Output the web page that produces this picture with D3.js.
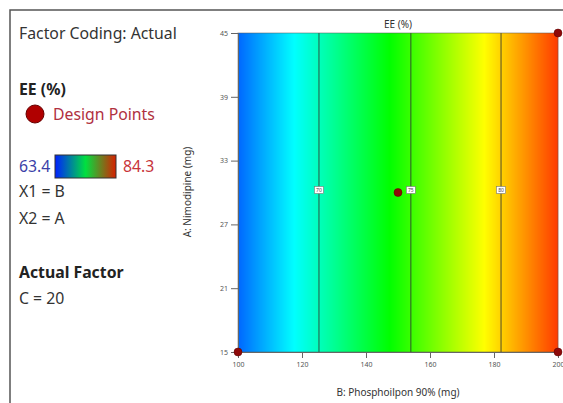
<!DOCTYPE html>
<html lang="en">
<head>
  <meta charset="utf-8">
  <title>EE (%) contour</title>
  <script src="https://d3js.org/d3.v7.min.js"></script>
  <style>
  body { margin: 0; background: #fff; }
  text { font-family: "Noto Sans", "Open Sans", sans-serif; }
  </style>
</head>
<body>
<script>
  // values
  var xTicks = [100, 120, 140, 160, 180, 200];      // B: Phosphoilpon 90% (mg)
  var yTicks = [15, 21, 27, 33, 39, 45];            // A: Nimodipine (mg)
  var bSamples = [100, 125.3, 154, 182.2, 200];     // response along B (flat in A)
  var eeSamples = [65.5, 70, 75, 80, 83.1];
  var contourLevels = [70, 75, 80];
  var designB = [100, 200, 200, 150];
  var designA = [15, 15, 45, 30];
  var eeMin = 63.4, eeMax = 84.3;
  var legendLines = ["X1 = B", "X2 = A"];

  var w = 563, h = 403;
  var fs = 15.8; // legend font size
  var svg = d3.select("body").append("svg").attr("width", w).attr("height", h);

  // outer frame
  svg.append("rect")
    .attr("x", 10).attr("y", 10).attr("width", 600).attr("height", 450)
    .attr("fill", "none").attr("stroke", "#555").attr("stroke-width", 1.5);

  var x = d3.scaleLinear().domain([100, 200]).range([238, 558]);
  var y = d3.scaleLinear().domain([15, 45]).range([352, 33]);
  var ee = d3.scaleLinear().domain(bSamples).range(eeSamples);
  var color = d3.scaleLinear()
    .domain([0, 0.25, 0.5, 0.75, 1].map(function(t) { return eeMin + t * (eeMax - eeMin); }))
    .range(["#0000ff", "#00ffff", "#00ff00", "#ffff00", "#ff0000"]);

  // filled surface, one column per pixel
  var cols = d3.range(x.range()[0], x.range()[1], 1);
  svg.append("g").selectAll("rect")
    .data(cols)
    .enter().append("rect")
    .attr("x", function(d) { return d; })
    .attr("y", y(45))
    .attr("width", 1.2)
    .attr("height", y(15) - y(45))
    .attr("fill", function(d) { return color(ee(x.invert(d + 0.5))); });

  // contour lines
  var bAt = d3.scaleLinear().domain(eeSamples).range(bSamples);
  var cg = svg.append("g").selectAll("g").data(contourLevels).enter().append("g");
  cg.append("line")
    .attr("x1", function(d) { return x(bAt(d)); })
    .attr("x2", function(d) { return x(bAt(d)); })
    .attr("y1", y(45)).attr("y2", y(15))
    .attr("stroke", "#333").attr("stroke-opacity", 0.65).attr("stroke-width", 1.3);
  cg.append("rect")
    .attr("x", function(d) { return x(bAt(d)) - 4.5; })
    .attr("y", 186.5).attr("width", 9).attr("height", 7)
    .attr("fill", "#fff").attr("stroke", "#777").attr("stroke-width", 0.6);
  cg.append("text")
    .attr("x", function(d) { return x(bAt(d)); })
    .attr("y", 192)
    .attr("text-anchor", "middle")
    .attr("font-size", 5).attr("fill", "#444")
    .text(function(d) { return d; });

  // plot border
  svg.append("rect")
    .attr("x", x(100)).attr("y", y(45))
    .attr("width", x(200) - x(100)).attr("height", y(15) - y(45))
    .attr("fill", "none").attr("stroke", "#555").attr("stroke-opacity", 0.5).attr("stroke-width", 1);

  // axes
  var xAxis = svg.append("g")
    .attr("transform", "translate(0," + y(15) + ")")
    .call(d3.axisBottom(x).tickValues(xTicks).tickSize(6).tickPadding(4).tickSizeOuter(0));
  var yAxis = svg.append("g")
    .attr("transform", "translate(" + x(100) + ",0)")
    .call(d3.axisLeft(y).tickValues(yTicks).tickSize(7).tickPadding(3).tickSizeOuter(0));
  [xAxis, yAxis].forEach(function(a) {
    a.select(".domain").attr("stroke", "#666");
    a.selectAll(".tick line").attr("stroke", "#666");
    a.selectAll(".tick text").attr("fill", "#555").attr("font-size", 7)
      .attr("font-family", "'Noto Sans', sans-serif");
  });

  // design points
  svg.append("g").selectAll("circle")
    .data(designB)
    .enter().append("circle")
    .attr("cx", function(d) { return x(d); })
    .attr("cy", function(d, i) { return y(designA[i]); })
    .attr("r", 4)
    .attr("fill", "#8e0a0a").attr("stroke", "#5a0000").attr("stroke-width", 0.5);

  // titles
  svg.append("text").attr("x", 398).attr("y", 28).attr("text-anchor", "middle")
    .attr("font-size", 10).attr("fill", "#333").text("EE (%)");
  svg.append("text").attr("x", 398).attr("y", 396).attr("text-anchor", "middle")
    .attr("font-size", 10).attr("fill", "#333").text("B: Phosphoilpon 90% (mg)");
  svg.append("text").attr("transform", "translate(191,192) rotate(-90)")
    .attr("text-anchor", "middle").attr("font-size", 10).attr("fill", "#333")
    .text("A: Nimodipine (mg)");

  // legend
  var lg = svg.append("g");
  lg.append("text").attr("x", 19).attr("y", 39).attr("font-size", fs).attr("fill", "#333")
    .text("Factor Coding: Actual");
  lg.append("text").attr("x", 19).attr("y", 95).attr("font-size", fs).attr("font-weight", "bold")
    .attr("fill", "#222").text("EE (%)");
  lg.append("circle").attr("cx", 35).attr("cy", 114).attr("r", 9)
    .attr("fill", "#b00000").attr("stroke", "#600").attr("stroke-width", 1);
  lg.append("text").attr("x", 53).attr("y", 120).attr("font-size", fs).attr("fill", "#b03040")
    .text("Design Points");

  var grad = svg.append("defs").append("linearGradient").attr("id", "bar");
  grad.selectAll("stop")
    .data([["0%", "#0020ff"], ["50%", "#00e040"], ["100%", "#d82000"]])
    .enter().append("stop")
    .attr("offset", function(d) { return d[0]; })
    .attr("stop-color", function(d) { return d[1]; });
  lg.append("rect").attr("x", 55).attr("y", 155).attr("width", 61).attr("height", 23)
    .attr("fill", "url(#bar)").attr("stroke", "#333").attr("stroke-width", 1);
  lg.append("text").attr("x", 19).attr("y", 172).attr("font-size", fs).attr("fill", "#3b3fa8")
    .text(eeMin);
  lg.append("text").attr("x", 123).attr("y", 172).attr("font-size", fs).attr("fill", "#c8343a")
    .text(eeMax);
  lg.selectAll(".xl").data(legendLines).enter().append("text")
    .attr("x", 19).attr("y", function(d, i) { return 197 + i * 27; })
    .attr("font-size", fs).attr("fill", "#333").text(function(d) { return d; });
  lg.append("text").attr("x", 19).attr("y", 278).attr("font-size", fs).attr("font-weight", "bold")
    .attr("fill", "#222").text("Actual Factor");
  lg.append("text").attr("x", 19).attr("y", 304).attr("font-size", fs).attr("fill", "#333")
    .text("C = 20");
</script>
</body>
</html>
